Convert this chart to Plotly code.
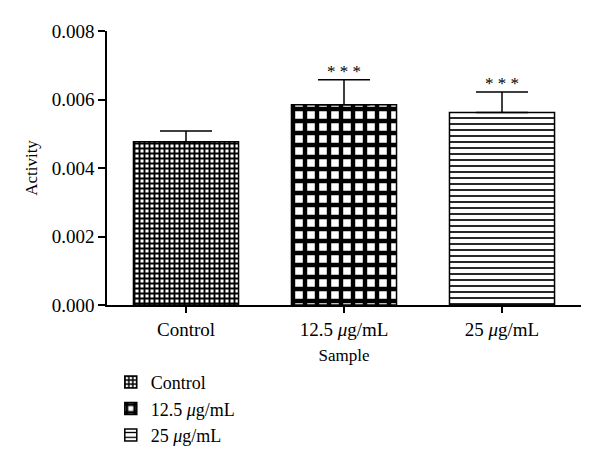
import plotly.graph_objects as go

categories = ["Control", "12.5 <i>μ</i>g/mL", "25 <i>μ</i>g/mL"]
activity = [0.00477, 0.00585, 0.00562]
sem = [0.00031, 0.00073, 0.00060]
significance = ["", "* * *", "* * *"]
y_ticks = [0.000, 0.002, 0.004, 0.006, 0.008]
y_tick_labels = ["0.000", "0.002", "0.004", "0.006", "0.008"]

patterns = [
    dict(shape="+", size=5, solidity=0.62, fgcolor="black", bgcolor="white", fgopacity=1),
    dict(shape="+", size=12, solidity=0.6, fgcolor="black", bgcolor="white", fgopacity=1),
    dict(shape="-", size=6, solidity=0.28, fgcolor="black", bgcolor="white", fgopacity=1),
]

FONT = "Liberation Serif, Times New Roman, serif"

fig = go.Figure()
for i, cat in enumerate(categories):
    fig.add_trace(go.Bar(
        x=[cat], y=[activity[i]], name=cat, width=0.665,
        marker=dict(color="white", line=dict(color="black", width=1.5),
                    pattern=patterns[i]),
        error_y=dict(type="data", array=[sem[i]], arrayminus=[0], symmetric=False,
                     color="black", thickness=1.5, width=26),
    ))
    if significance[i]:
        fig.add_annotation(x=cat, y=activity[i] + sem[i], text=significance[i],
                           showarrow=False, yanchor="bottom", yshift=-3,
                           font=dict(family=FONT, size=17, color="#000000"))

fig.update_layout(
    width=600, height=475,
    margin=dict(l=99, r=27, t=23, b=178, autoexpand=False),
    paper_bgcolor="white", plot_bgcolor="white",
    barmode="overlay",
    font=dict(family=FONT, size=19, color="black"),
    showlegend=True,
    legend=dict(x=0.008, y=-0.215, xanchor="left", yanchor="top",
                orientation="v", font=dict(family=FONT, size=18),
                bgcolor="rgba(0,0,0,0)", tracegroupgap=0),
    xaxis=dict(range=[-0.5, 2.5], showline=True, linecolor="black", linewidth=1.5,
               ticks="outside", ticklen=6, tickwidth=1.5, tickcolor="black",
               showgrid=False, zeroline=False,
               title=dict(text="Sample", font=dict(family=FONT, size=17), standoff=11)),
    yaxis=dict(range=[0, 0.008], tickvals=y_ticks, ticktext=y_tick_labels,
               showline=True, linecolor="black", linewidth=1.5,
               ticks="outside", ticklen=7, tickwidth=1.5, tickcolor="black",
               showgrid=False, zeroline=False,
               title=dict(text="Activity", font=dict(family=FONT, size=17), standoff=10)),
)

fig.write_html("out.html")
